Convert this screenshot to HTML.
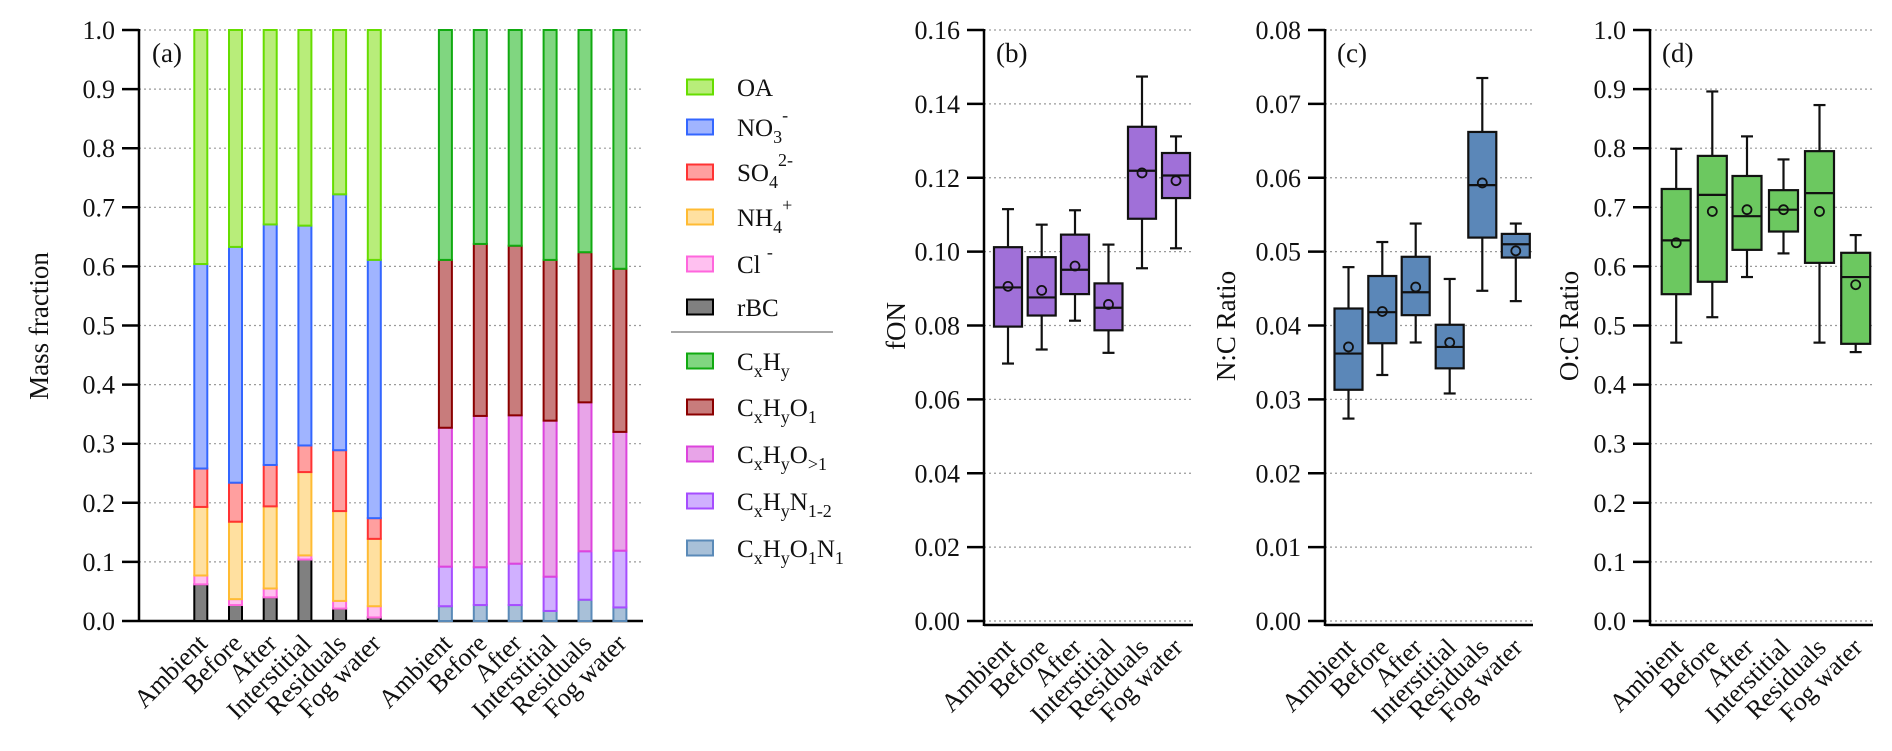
<!DOCTYPE html>
<html><head><meta charset="utf-8">
<style>
html,body{margin:0;padding:0;background:#fff;}
svg, svg text, svg tspan{font-family:"Liberation Serif","Times New Roman",serif !important;}
</style></head>
<body>
<svg id="fig" width="1892" height="746" viewBox="0 0 1892 746" xmlns="http://www.w3.org/2000/svg" font-family="Liberation Serif, serif"></svg>
<script>
// ---------- Panel (a) data ----------
const categories = ["Ambient","Before","After","Interstitial","Residuals","Fog water"];
const rBC  = [0.062,0.027,0.040,0.104,0.021,0.006];
const Cl   = [0.015,0.010,0.015,0.007,0.013,0.019];
const NH4  = [0.116,0.131,0.139,0.141,0.152,0.114];
const SO4  = [0.065,0.066,0.070,0.045,0.103,0.035];
const NO3  = [0.346,0.399,0.407,0.372,0.433,0.437];
const OA   = [0.396,0.367,0.329,0.331,0.278,0.389];
const CxHyO1N1 = [0.025,0.027,0.027,0.017,0.036,0.023];
const CxHyN    = [0.067,0.064,0.070,0.058,0.082,0.096];
const CxHyOgt1 = [0.235,0.256,0.251,0.264,0.252,0.201];
const CxHyO1   = [0.284,0.291,0.287,0.272,0.254,0.276];
const CxHy     = [0.389,0.362,0.365,0.389,0.376,0.404];
const ticksA = [0,0.1,0.2,0.3,0.4,0.5,0.6,0.7,0.8,0.9,1.0];
// ---------- Panel (b) fON ----------
const fonWhiskHi = [0.1115,0.1073,0.1112,0.1019,0.1474,0.1312];
const fonQ3      = [0.1012,0.0985,0.1046,0.0914,0.1338,0.1267];
const fonMed     = [0.0903,0.0876,0.0951,0.0848,0.1219,0.1206];
const fonMean    = [0.0906,0.0895,0.0961,0.0857,0.1213,0.1192];
const fonQ1      = [0.0797,0.0827,0.0885,0.0787,0.1089,0.1145];
const fonWhiskLo = [0.0697,0.0735,0.0813,0.0726,0.0955,0.1009];
const ticksB = [0,0.02,0.04,0.06,0.08,0.10,0.12,0.14,0.16];
// ---------- Panel (c) N:C ----------
const ncWhiskHi = [0.0479,0.0513,0.0538,0.0463,0.0735,0.0538];
const ncQ3      = [0.0423,0.0467,0.0493,0.0401,0.0662,0.0524];
const ncMed     = [0.0362,0.0418,0.0445,0.0371,0.0590,0.0510];
const ncMean    = [0.0371,0.0419,0.0452,0.0377,0.0593,0.0501];
const ncQ1      = [0.0313,0.0376,0.0414,0.0342,0.0519,0.0492];
const ncWhiskLo = [0.0274,0.0333,0.0377,0.0308,0.0447,0.0433];
const ticksC = [0,0.01,0.02,0.03,0.04,0.05,0.06,0.07,0.08];
// ---------- Panel (d) O:C ----------
const ocWhiskHi = [0.799,0.896,0.820,0.781,0.873,0.653];
const ocQ3      = [0.731,0.787,0.753,0.729,0.795,0.623];
const ocMed     = [0.644,0.721,0.685,0.696,0.724,0.582];
const ocMean    = [0.640,0.693,0.696,0.696,0.693,0.569];
const ocQ1      = [0.553,0.574,0.628,0.659,0.606,0.469];
const ocWhiskLo = [0.471,0.514,0.582,0.622,0.471,0.455];
const ticksD = [0,0.1,0.2,0.3,0.4,0.5,0.6,0.7,0.8,0.9,1.0];

const NS="http://www.w3.org/2000/svg";
const FONT='"Liberation Serif", "Times New Roman", serif';
const svg=document.getElementById('fig');
function el(tag,attrs,parent){const e=document.createElementNS(NS,tag);for(const k in attrs)e.setAttribute(k,attrs[k]);if(tag==='text'){e.setAttribute('font-family',FONT);e.style.fontFamily=FONT;}(parent||svg).appendChild(e);return e;}

const TOP=30, BOT=621;
function yScale(max){return v=>BOT-(BOT-TOP)*v/max;}

function axes(name,x0,x1,max,ticks,dec,axisOffset){
  const y=yScale(max);
  const g=el('g',{});
  
  
  ticks.forEach(t=>{
    const gl=el('line',{x1:x0,x2:x1,y1:y(t),y2:y(t),stroke:'#9a9a9a','stroke-width':1.2,'stroke-dasharray':'2,3'},g);
    
    
    el('line',{x1:x0-17,x2:x0,y1:y(t),y2:y(t),stroke:'#000','stroke-width':2.5},g);
    const tl=el('text',{x:x0-24,y:y(t)+9,'text-anchor':'end','font-size':26,fill:'#111'},g);
    tl.textContent=t.toFixed(dec);
    
    
  });
  const yb=BOT+axisOffset;
  el('line',{x1:x0,x2:x0,y1:TOP-1,y2:yb+1,stroke:'#000','stroke-width':2.5},g);
  el('line',{x1:x0,x2:x1,y1:yb,y2:yb,stroke:'#000','stroke-width':2.5},g);
  return y;
}
function xLabels(centers,axisY){
  centers.forEach((cx,i)=>{
    const t=el('text',{'text-anchor':'end','font-size':26,fill:'#111',transform:`translate(${cx+8},${axisY+24}) rotate(-45)`});
    t.textContent=categories[i];
    
    
  });
}

// ----- Panel a -----
const ya=axes('panel-a',139,643,1,ticksA,1,0);
const g1x=i=>200.8+34.7*i, g2x=i=>445.4+34.9*i;
const inorg=[[rBC,'#808080','#000000','rbc'],[Cl,'#ffc0f0','#ff66dd','cl'],[NH4,'#ffe0a0','#ffbb33','nh4'],[SO4,'#ff9f9f','#ff3333','so4'],[NO3,'#a0b4ff','#3366ff','no3'],[OA,'#b8ed7a','#66dd00','oa']];
const org=[[CxHyO1N1,'#a8c0d8','#5a8ab8','cxhyo1n1'],[CxHyN,'#d0b0ff','#a64dff','cxhyn'],[CxHyOgt1,'#e8a4e8','#dd44dd','cxhyogt1'],[CxHyO1,'#c87c7c','#8b0000','cxhyo1'],[CxHy,'#80d680','#11aa11','cxhy']];
function stack(series,xf){
  for(let i=0;i<categories.length;i++){
    let cum=0;
    series.forEach(([arr,fill,stroke,nm])=>{
      const v=arr[i];
      const r=el('rect',{x:xf(i)-6.5,y:ya(cum+v),width:13,height:Math.max(0,ya(cum)-ya(cum+v)),fill:fill,stroke:stroke,'stroke-width':2});
      
      
      cum+=v;
    });
  }
}
stack(inorg,g1x);stack(org,g2x);
xLabels(categories.map((c,i)=>g1x(i)),621);
xLabels(categories.map((c,i)=>g2x(i)),621);
let t=el('text',{x:152,y:62,'font-size':27,fill:'#111'});t.textContent='(a)';

t=el('text',{'text-anchor':'middle','font-size':27,fill:'#111',transform:'translate(48,326) rotate(-90)'});t.textContent='Mass fraction';


// legend
const legendRows=[
 ['#b8ed7a','#66dd00',87,[['OA','']]],
 ['#a0b4ff','#3366ff',127,[['NO',''],['3','sub'],['-','sup']]],
 ['#ff9f9f','#ff3333',172,[['SO',''],['4','sub'],['2-','sup']]],
 ['#ffe0a0','#ffbb33',217,[['NH',''],['4','sub'],['+','sup']]],
 ['#ffc0f0','#ff66dd',264,[['Cl ',''],['-','sup']]],
 ['#808080','#000000',307,[['rBC','']]],
 ['#80d680','#11aa11',361,[['C',''],['x','sub'],['H',''],['y','sub']]],
 ['#c87c7c','#8b0000',407,[['C',''],['x','sub'],['H',''],['y','sub'],['O',''],['1','sub']]],
 ['#e8a4e8','#dd44dd',454,[['C',''],['x','sub'],['H',''],['y','sub'],['O',''],['>1','sub']]],
 ['#d0b0ff','#a64dff',501,[['C',''],['x','sub'],['H',''],['y','sub'],['N',''],['1-2','sub']]],
 ['#a8c0d8','#5a8ab8',548,[['C',''],['x','sub'],['H',''],['y','sub'],['O',''],['1','sub'],['N',''],['1','sub']]]
];
const lg=el('g',{});

legendRows.forEach(([fill,stroke,cy,parts])=>{
  const r=el('rect',{x:687,y:cy-7.5,width:26,height:15,fill:fill,stroke:stroke,'stroke-width':2},lg);
  
  const tx=el('text',{x:737,y:cy+9,'font-size':25,fill:'#111'},lg);
  
  let shift=0;
  parts.forEach(([s,k])=>{
    const sp=el('tspan',{},tx);
    if(k==='sub'){sp.setAttribute('font-size','18');sp.setAttribute('dy',7-shift);shift=7;}
    else if(k==='sup'){sp.setAttribute('font-size','18');sp.setAttribute('dy',-15-shift);shift=-15;}
    else{sp.setAttribute('dy',-shift);shift=0;}
    sp.textContent=s;
  });
});
el('line',{x1:671,x2:833,y1:332,y2:332,stroke:'#888','stroke-width':1.5},lg);

// ----- box panels -----
function boxPanel(name,x0,x1,max,ticks,dec,centers,bw,color,hi,q3,med,mean,q1,lo,label,title,titleX){
  const y=axes(name,x0,x1,max,ticks,dec,4);
  centers.forEach((cx,i)=>{
    const g=el('g',{});
    
    
    el('line',{x1:cx,x2:cx,y1:y(hi[i]),y2:y(q3[i]),stroke:'#111','stroke-width':2.2},g);
    el('line',{x1:cx,x2:cx,y1:y(q1[i]),y2:y(lo[i]),stroke:'#111','stroke-width':2.2},g);
    el('line',{x1:cx-6,x2:cx+6,y1:y(hi[i]),y2:y(hi[i]),stroke:'#111','stroke-width':2.2},g);
    el('line',{x1:cx-6,x2:cx+6,y1:y(lo[i]),y2:y(lo[i]),stroke:'#111','stroke-width':2.2},g);
    el('rect',{x:cx-bw/2,y:y(q3[i]),width:bw,height:y(q1[i])-y(q3[i]),fill:color,stroke:'#111','stroke-width':2.2},g);
    el('line',{x1:cx-bw/2,x2:cx+bw/2,y1:y(med[i]),y2:y(med[i]),stroke:'#111','stroke-width':2.2},g);
    el('circle',{cx:cx,cy:y(mean[i]),r:4.5,fill:'none',stroke:'#111','stroke-width':1.8},g);
  });
  xLabels(centers,BOT+4);
  let t=el('text',{x:x0+12,y:62,'font-size':27,fill:'#111'});t.textContent=label;
  
  t=el('text',{'text-anchor':'middle','font-size':27,fill:'#111',transform:`translate(${titleX},326) rotate(-90)`});t.textContent=title;
  
}
const cb=[1008,1041.7,1075,1108.5,1142,1176];
const cc=[1348.5,1382.3,1415.7,1449.7,1482.3,1515.8];
const cd=[1676.2,1712.3,1747,1783.5,1819.5,1855.7];
boxPanel('panel-b',984,1193,0.16,ticksB,2,cb,28,'#a070d8',fonWhiskHi,fonQ3,fonMed,fonMean,fonQ1,fonWhiskLo,'(b)','fON',905);
boxPanel('panel-c',1325,1533,0.08,ticksC,2,cc,28,'#5b87b8',ncWhiskHi,ncQ3,ncMed,ncMean,ncQ1,ncWhiskLo,'(c)','N:C Ratio',1235);
boxPanel('panel-d',1650,1873,1.0,ticksD,1,cd,29,'#6cc860',ocWhiskHi,ocQ3,ocMed,ocMean,ocQ1,ocWhiskLo,'(d)','O:C Ratio',1578);
</script>
</body></html>
